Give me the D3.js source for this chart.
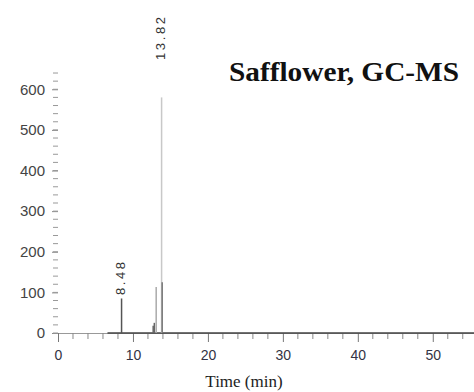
<!DOCTYPE html>
<html>
<head>
<meta charset="utf-8">
<script src="https://cdn.jsdelivr.net/npm/d3@7"></script>
<style>
  body { margin: 0; background: #fff; }
  svg { display: block; }
</style>
</head>
<body>
<svg width="474" height="392"></svg>
<script>
// chromatogram peaks (retention time in min, abundance)
const peakTimes = [8.48, 12.7, 12.85, 13.1, 13.82, 13.9];
const peakHeights = [85, 18, 25, 113, 580, 125];
const peakShade = ['#555', '#666', '#666', '#aaa', '#c8c8c8', '#777'];
// labelled peaks
const labelTimes = [8.48, 13.82];
const labelText = ['8.48', '13.82'];
// baseline trace (start/end time of the recorded signal)
const traceTimes = [6.6, 56];
const xTicks = [0, 10, 20, 30, 40, 50];
const yTicks = [0, 100, 200, 300, 400, 500, 600];

const svg = d3.select('svg');

const x = d3.scaleLinear().domain([0, 55.5]).range([58, 474]);
const y = d3.scaleLinear().domain([0, 645]).range([333, 71]);

// y axis: only ticks, no spine
const yAxis = d3.axisLeft(y).tickValues(yTicks).tickSize(6).tickPadding(7);
const gy = svg.append('g').attr('transform', 'translate(58,0)').call(yAxis);
gy.select('.domain').remove();
gy.selectAll('.tick line').attr('stroke', '#888');
gy.selectAll('text').attr('font-family', 'Liberation Sans, Arial, sans-serif')
    .attr('font-size', 15).attr('fill', '#444');
const yMinor = d3.range(0, 641, 20);
svg.append('g').selectAll('line').data(yMinor).enter().append('line')
    .attr('x1', 53).attr('x2', 58)
    .attr('y1', (d) => y(d)).attr('y2', (d) => y(d))
    .attr('stroke', '#999').attr('stroke-width', 1);

// x axis
const xAxis = d3.axisBottom(x).tickValues(xTicks).tickSize(9).tickPadding(8).tickSizeOuter(0);
const gx = svg.append('g').attr('transform', 'translate(0,333)').call(xAxis);
gx.select('.domain').attr('stroke', '#999');
gx.selectAll('.tick line').attr('stroke', '#777');
gx.selectAll('text').attr('font-family', 'Liberation Sans, Arial, sans-serif')
    .attr('font-size', 14).attr('fill', '#334');
const xMinor = d3.range(0, 56, 2).filter((d) => d % 10 !== 0);
svg.append('g').selectAll('line').data(xMinor).enter().append('line')
    .attr('x1', (d) => x(d)).attr('x2', (d) => x(d))
    .attr('y1', 333).attr('y2', 339)
    .attr('stroke', '#888');

// baseline of the trace
svg.append('line')
    .attr('x1', x(traceTimes[0])).attr('x2', x(traceTimes[1]))
    .attr('y1', y(0)).attr('y2', y(0))
    .attr('stroke', '#444').attr('stroke-width', 1.3);

// peaks as sticks
svg.append('g').selectAll('line').data(peakTimes).enter().append('line')
    .attr('x1', (d) => x(d)).attr('x2', (d) => x(d))
    .attr('y1', y(0))
    .attr('y2', (d, i) => y(peakHeights[i]))
    .attr('stroke', (d, i) => peakShade[i])
    .attr('stroke-width', 1.5);

// rotated peak labels
const labelBottom = [295, 60];
svg.append('g').selectAll('text').data(labelTimes).enter().append('text')
    .attr('transform', (d, i) => 'translate(' + (x(d) + 3) + ',' + labelBottom[i] + ') rotate(-90)')
    .attr('font-family', 'Liberation Sans, Arial, sans-serif')
    .attr('font-size', 13)
    .attr('fill', '#333')
    .attr('textLength', (d, i) => (i === 0 ? 33 : 43))
    .attr('lengthAdjust', 'spacing')
    .text((d, i) => labelText[i]);

// title
svg.append('text')
    .attr('x', 229).attr('y', 81)
    .attr('font-family', 'Liberation Serif, Times New Roman, serif')
    .attr('font-weight', 'bold')
    .attr('font-size', 27)
    .attr('fill', '#111')
    .attr('textLength', 230)
    .attr('lengthAdjust', 'spacingAndGlyphs')
    .text('Safflower, GC-MS');

// x axis title
svg.append('text')
    .attr('x', 244).attr('y', 387)
    .attr('text-anchor', 'middle')
    .attr('font-family', 'Liberation Serif, Times New Roman, serif')
    .attr('font-size', 17)
    .attr('fill', '#222')
    .text('Time (min)');
</script>
</body>
</html>
